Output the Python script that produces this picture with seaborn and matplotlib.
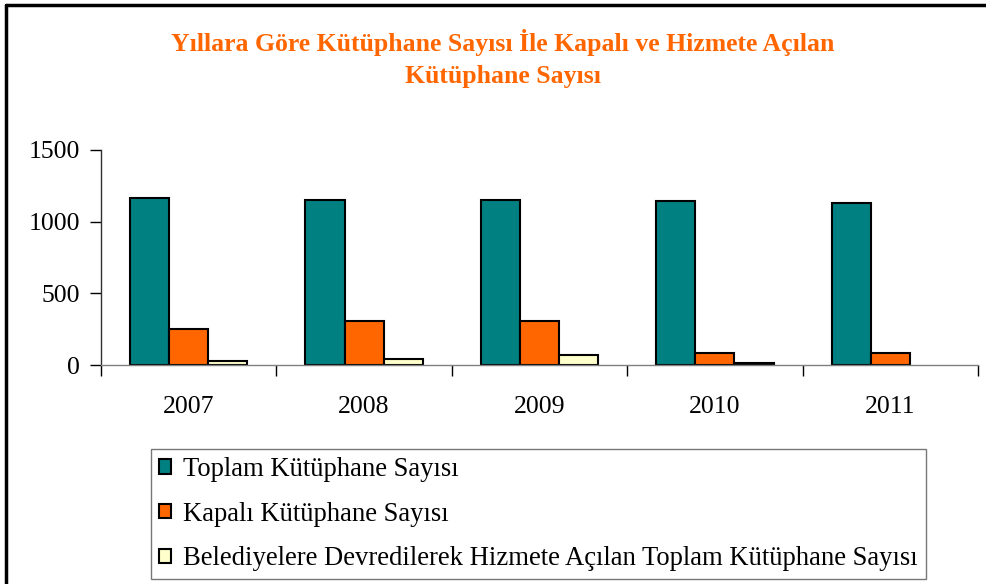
import matplotlib
matplotlib.use("Agg")
import matplotlib.pyplot as plt
import numpy as np
import pandas as pd
import seaborn as sns
from matplotlib.lines import Line2D
from matplotlib.patches import Patch

years = ["2007", "2008", "2009", "2010", "2011"]
toplam = [1168, 1154, 1154, 1143, 1129]
kapali = [251, 306, 306, 86, 86]
devredilen = [30, 42, 70, 12, np.nan]

series_names = [
    "Toplam Kütüphane Sayısı",
    "Kapalı Kütüphane Sayısı",
    "Belediyelere Devredilerek Hizmete Açılan Toplam Kütüphane Sayısı",
]
series_colors = ["#008080", "#FF6600", "#FFFFCC"]
title_text = "Yıllara Göre Kütüphane Sayısı İle Kapalı ve Hizmete Açılan\nKütüphane Sayısı"

df = pd.DataFrame(
    {
        "year": years * 3,
        "series": [series_names[0]] * 5 + [series_names[1]] * 5 + [series_names[2]] * 5,
        "value": toplam + kapali + devredilen,
    }
)

sns.set_theme(style="white", rc={"text.color": "black", "xtick.color": "black", "ytick.color": "black"})
plt.rcParams["font.family"] = ["Liberation Serif", "DejaVu Serif"]

fig = plt.figure(figsize=(9.87, 5.84), dpi=100)
ax = fig.add_axes([101 / 987, 1 - 365 / 584, 877 / 987, 215 / 584])

sns.barplot(
    data=df,
    x="year",
    y="value",
    hue="series",
    hue_order=series_names,
    palette=series_colors,
    width=0.67,
    saturation=1,
    edgecolor="black",
    linewidth=1.5,
    legend=False,
    ax=ax,
)

ax.set_xlim(-0.5, len(years) - 0.5)
ax.set_ylim(0, 1500)
ax.set_yticks([0, 500, 1000, 1500])
ax.set_xlabel("")
ax.set_ylabel("")

ax.set_xticks(np.arange(-0.5, len(years), 1.0), minor=True)
ax.tick_params(axis="x", which="major", length=0, pad=22, labelsize=18.5, colors="black")
ax.tick_params(axis="x", which="minor", length=8, width=1, color="black", direction="out", bottom=True)
ax.tick_params(axis="y", length=8, width=1, color="black", labelcolor="black",
               direction="out", left=True, pad=7, labelsize=18.5)

for side in ["top", "right"]:
    ax.spines[side].set_visible(False)
ax.spines["left"].set_color("#303030")
ax.spines["bottom"].set_color("#808080")
ax.spines["left"].set_linewidth(1)
ax.spines["bottom"].set_linewidth(1)

fig.text(
    503 / 987,
    1 - 58 / 584,
    title_text,
    ha="center",
    va="center",
    fontsize=18.5,
    fontweight="bold",
    color="#FF6600",
    linespacing=1.5,
)

handles = [Patch(facecolor=c, edgecolor="black", linewidth=1.5) for c in series_colors]
leg = fig.legend(
    handles,
    series_names,
    loc="upper left",
    bbox_to_anchor=(151 / 987, 1 - 449 / 584),
    frameon=True,
    fancybox=False,
    fontsize=19.2,
    labelcolor="black",
    handlelength=0.45,
    handleheight=0.45,
    handletextpad=0.45,
    labelspacing=0.74,
    borderpad=0.3,
    borderaxespad=0,
)
leg.get_frame().set_edgecolor("#555555")
leg.get_frame().set_linewidth(1)

# outer frame: only top and left edges fall inside the picture
fig.add_artist(Line2D([6 / 987, 1.2], [1 - 5 / 584, 1 - 5 / 584], transform=fig.transFigure,
                      color="black", linewidth=2.5))
fig.add_artist(Line2D([6 / 987, 6 / 987], [-0.2, 1 - 5 / 584], transform=fig.transFigure,
                      color="black", linewidth=2.5))

fig.savefig("out.png", dpi=100)
